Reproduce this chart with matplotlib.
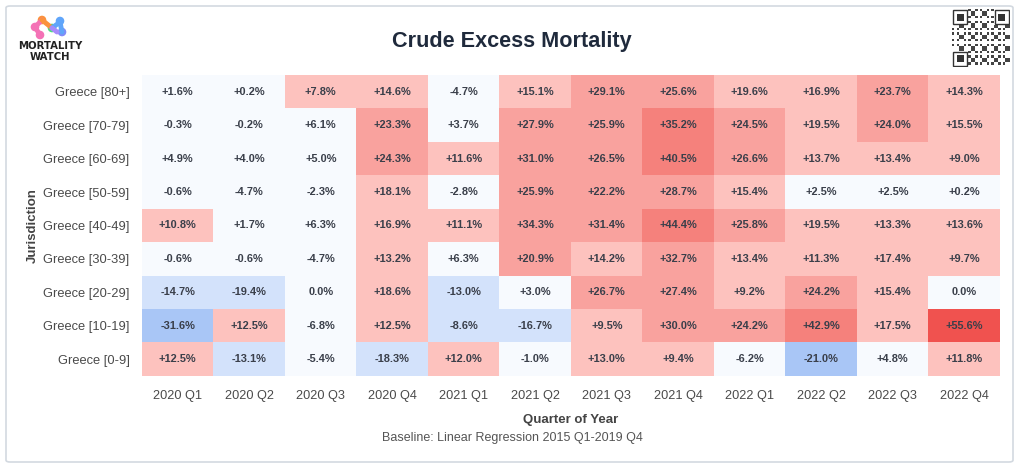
import matplotlib
matplotlib.use("Agg")
import matplotlib.pyplot as plt
import numpy as np
from matplotlib.colors import ListedColormap, BoundaryNorm
from matplotlib.patches import FancyBboxPatch, Circle, Rectangle

plt.rcParams['font.family'] = ['Liberation Sans', 'DejaVu Sans']

quarters = ["2020 Q1", "2020 Q2", "2020 Q3", "2020 Q4", "2021 Q1", "2021 Q2",
            "2021 Q3", "2021 Q4", "2022 Q1", "2022 Q2", "2022 Q3", "2022 Q4"]
jurisdictions = ["Greece [80+]", "Greece [70-79]", "Greece [60-69]", "Greece [50-59]",
                 "Greece [40-49]", "Greece [30-39]", "Greece [20-29]", "Greece [10-19]",
                 "Greece [0-9]"]

row_80 = [1.6, 0.2, 7.8, 14.6, -4.7, 15.1, 29.1, 25.6, 19.6, 16.9, 23.7, 14.3]
row_70 = [-0.3, -0.2, 6.1, 23.3, 3.7, 27.9, 25.9, 35.2, 24.5, 19.5, 24.0, 15.5]
row_60 = [4.9, 4.0, 5.0, 24.3, 11.6, 31.0, 26.5, 40.5, 26.6, 13.7, 13.4, 9.0]
row_50 = [-0.6, -4.7, -2.3, 18.1, -2.8, 25.9, 22.2, 28.7, 15.4, 2.5, 2.5, 0.2]
row_40 = [10.8, 1.7, 6.3, 16.9, 11.1, 34.3, 31.4, 44.4, 25.8, 19.5, 13.3, 13.6]
row_30 = [-0.6, -0.6, -4.7, 13.2, 6.3, 20.9, 14.2, 32.7, 13.4, 11.3, 17.4, 9.7]
row_20 = [-14.7, -19.4, 0.0, 18.6, -13.0, 3.0, 26.7, 27.4, 9.2, 24.2, 15.4, 0.0]
row_10 = [-31.6, 12.5, -6.8, 12.5, -8.6, -16.7, 9.5, 30.0, 24.2, 42.9, 17.5, 55.6]
row_0 = [12.5, -13.1, -5.4, -18.3, 12.0, -1.0, 13.0, 9.4, -6.2, -21.0, 4.8, 11.8]

values = np.array([row_80, row_70, row_60, row_50, row_40, row_30, row_20, row_10, row_0])

# binned colour scale
bounds = [-100, -20, -7.5, 7.5, 20, 35, 50, 100]
cmap = ListedColormap(["#a9c6f6", "#d3e2fb", "#f7fafe", "#fdc2be",
                       "#f9a29e", "#f5817c", "#f0524f"])
norm = BoundaryNorm(bounds, cmap.N)

fig = plt.figure(figsize=(10.24, 4.67), dpi=100)

# outer card border
fig.patches.append(FancyBboxPatch((6 / 1024, 5 / 467), 1007 / 1024, 456 / 467,
                                  boxstyle="round,pad=0,rounding_size=0.004",
                                  transform=fig.transFigure, facecolor="none",
                                  edgecolor="#d3d9e0", linewidth=1.2, zorder=0))

ax = fig.add_axes([142 / 1024, (467 - 376) / 467, 858 / 1024, 301 / 467])
ax.imshow(values, cmap=cmap, norm=norm, aspect="auto", interpolation="nearest")
for i in range(values.shape[0]):
    for j in range(values.shape[1]):
        v = values[i, j]
        label = "0.0%" if v == 0 else f"{v:+.1f}%"
        ax.text(j, i, label, ha="center", va="center", fontsize=7.9,
                fontweight="bold", color="#3a3f4a")

ax.set_xticks(range(len(quarters)))
ax.set_xticklabels(quarters, fontsize=9.2, color="#4a4a4a")
ax.set_yticks(range(len(jurisdictions)))
ax.set_yticklabels(jurisdictions, fontsize=9.3, color="#4a4a4a")
ax.tick_params(length=0, pad=9)
ax.tick_params(axis="x", pad=10)
for s in ax.spines.values():
    s.set_visible(False)

ax.set_xlabel("Quarter of Year", fontsize=9.5, fontweight="bold", color="#444444", labelpad=9)
ax.set_ylabel("Jurisdiction", fontsize=9.5, fontweight="bold", color="#444444", labelpad=3)

fig.text(0.5, 1 - 42 / 467, "Crude Excess Mortality", ha="center", va="center",
         fontsize=15.6, fontweight="bold", color="#1f2a3c")
fig.text(0.5, 1 - 438 / 467, "Baseline: Linear Regression 2015 Q1-2019 Q4",
         ha="center", va="center", fontsize=9, color="#555555")

# logo (pixel coordinates inside a small axes)
lax = fig.add_axes([10 / 1024, (467 - 66) / 467, 80 / 1024, 56 / 467])
lax.set_xlim(10, 90)
lax.set_ylim(66, 10)
lax.axis("off")
lax.plot([40, 35, 42], [35, 27, 20], color="#f472b6", lw=3.5, solid_capstyle="round")
lax.plot([42, 52], [20, 28], color="#fb923c", lw=3.5, solid_capstyle="round")
lax.plot([52, 60, 62], [28, 22, 32], color="#60a5fa", lw=3.5, solid_capstyle="round")
lax.plot([52, 57], [28, 32], color="#a78bfa", lw=3.5, solid_capstyle="round")
for (cx, cy, c) in [(35, 27, "#f472b6"), (40, 35, "#f472b6"), (42, 20, "#fb923c"),
                    (52, 28, "#4ade80"), (60, 21, "#60a5fa"), (62, 32, "#818cf8")]:
    lax.add_patch(Circle((cx, cy), 3.6, color=c))
lax.text(50, 46, "MORTALITY", ha="center", va="center", fontsize=7.3,
         fontweight="bold", color="#222222", family="DejaVu Sans")
lax.text(50, 57, "WATCH", ha="center", va="center", fontsize=7.3,
         fontweight="bold", color="#222222", family="DejaVu Sans")

# QR code placeholder
qax = fig.add_axes([952 / 1024, (467 - 67) / 467, 58 / 1024, 58 / 467])
qax.set_xlim(0, 25)
qax.set_ylim(25, 0)
qax.axis("off")
n = 25
for r in range(n):
    for c in range(n):
        if (r * 7 + c * 13 + r * c * 3) % 5 < 2:
            qax.add_patch(Rectangle((c, r), 1, 1, color="#444444", lw=0))
for (ox, oy) in [(0, 0), (18, 0), (0, 18)]:
    qax.add_patch(Rectangle((ox, oy), 7, 7, color="white", lw=0))
    qax.add_patch(Rectangle((ox + 0.5, oy + 0.5), 6, 6, fill=False, ec="#333333", lw=1.0))
    qax.add_patch(Rectangle((ox + 2, oy + 2), 3, 3, color="#333333", lw=0))

fig.savefig("out.png", dpi=100)
